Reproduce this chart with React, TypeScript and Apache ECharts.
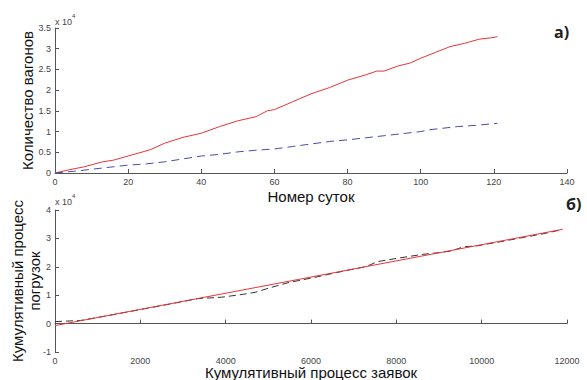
import React, { useEffect, useRef } from "react";
import * as echarts from "echarts";

// Top chart (а): wagons per day number
const topRedDays = [0, 4, 8, 13, 16, 20, 26, 30, 35, 40, 45, 50, 55, 58, 60, 65, 70, 75, 80, 85, 88, 90, 94, 97, 100, 104, 108, 112, 116, 119, 121];
const topRedValues = [0, 800, 1500, 2700, 3100, 4100, 5600, 7200, 8600, 9600, 11200, 12600, 13600, 15000, 15300, 17200, 19100, 20600, 22400, 23700, 24600, 24600, 25900, 26500, 27700, 29100, 30500, 31300, 32300, 32600, 32900];
const topBlueDays = [0, 5, 10, 15, 20, 25, 30, 35, 40, 45, 50, 55, 60, 65, 70, 75, 80, 85, 90, 96, 100, 102, 106, 110, 115, 121];
const topBlueValues = [0, 400, 900, 1400, 1900, 2200, 2700, 3400, 4100, 4500, 5100, 5500, 5800, 6400, 7000, 7600, 8000, 8500, 9000, 9600, 10000, 10400, 10800, 11200, 11500, 12000];

// Bottom chart (б): cumulative loading vs cumulative requests
const botRedX = [0, 11900];
const botRedY = [-700, 33200];
const botDashX = [0, 600, 1240, 2000, 2700, 3350, 3910, 4400, 4690, 4990, 5460, 6094, 6800, 7300, 7550, 8020, 8625, 9020, 9300, 9560, 9900, 10500, 11000, 11500, 11850];
const botDashY = [700, 1100, 2800, 4950, 6900, 8800, 9300, 10300, 11000, 12400, 14400, 16300, 18600, 20100, 21800, 23000, 24400, 25000, 25600, 27000, 27400, 29000, 30400, 31800, 33000];

const topTicksX = { min: 0, max: 140, interval: 20 };
const topTicksY = { min: 0, max: 35000, interval: 5000 };
const botTicksX = { min: 0, max: 12000, interval: 2000 };
const botTicksY = { min: -10000, max: 40000, interval: 10000 };

const zip = (xs: number[], ys: number[]) => xs.map((x, i) => [x, ys[i]]);

const fmt = (v: number) => {
  const s = v / 10000;
  return String(Math.round(s * 10) / 10);
};
const plain = (v: number) => String(v);

const FONT = "Liberation Sans, Arial, sans-serif";

export default function App() {
  const ref = useRef<HTMLDivElement>(null);
  useEffect(() => {
    if (!ref.current) return;
    const chart = echarts.init(ref.current, null, { renderer: "svg" });
    const axisCommon = {
      axisLine: { show: true, lineStyle: { color: "#555", width: 1 } },
      axisTick: { show: true, inside: true, length: 4, lineStyle: { color: "#555" } },
      axisLabel: { color: "#444", fontSize: 9, fontFamily: FONT },
      splitLine: { show: false },
      nameMoveOverlap: false,
      nameTextStyle: { color: "#111", fontSize: 15, fontFamily: FONT },
    };
    const sup = {
      a: { fontSize: 9, fontFamily: FONT, padding: [4, 0, 0, 0] },
      b: { fontSize: 6, fontFamily: FONT, verticalAlign: "top" },
    };
    chart.setOption({
      animation: false,
      backgroundColor: "#fff",
      grid: [
        { left: 55, top: 28, width: 512, height: 145, outerBoundsMode: "none", containLabel: false },
        { left: 55, top: 210, width: 512, height: 142, outerBoundsMode: "none", containLabel: false },
      ],
      xAxis: [
        {
          type: "value", gridIndex: 0, ...topTicksX, ...axisCommon,
          axisLabel: { ...axisCommon.axisLabel, margin: 4, formatter: plain },
          name: "Номер суток", nameLocation: "middle", nameGap: 16,
        },
        {
          type: "value", gridIndex: 1, ...botTicksX, ...axisCommon,
          axisLabel: { ...axisCommon.axisLabel, margin: 4, formatter: plain },
          name: "Кумулятивный процесс заявок", nameLocation: "middle", nameGap: 13,
        },
      ],
      yAxis: [
        {
          type: "value", gridIndex: 0, ...topTicksY, ...axisCommon,
          axisLabel: { ...axisCommon.axisLabel, margin: 4, formatter: fmt },
          name: "Количество вагонов", nameLocation: "middle", nameGap: 20,
        },
        {
          type: "value", gridIndex: 1, ...botTicksY, ...axisCommon,
          axisLabel: { ...axisCommon.axisLabel, margin: 4, formatter: fmt },
          name: "Кумулятивный процесс\nпогрузок", nameLocation: "middle", nameGap: 12,
          nameTextStyle: { ...axisCommon.nameTextStyle, lineHeight: 17 },
        },
      ],
      series: [
        {
          type: "line", xAxisIndex: 0, yAxisIndex: 0, data: zip(topRedDays, topRedValues),
          showSymbol: false, lineStyle: { color: "#e8343a", width: 1 },
        },
        {
          type: "line", xAxisIndex: 0, yAxisIndex: 0, data: zip(topBlueDays, topBlueValues),
          showSymbol: false, lineStyle: { color: "#4a4aa8", width: 1, type: [8, 5] },
        },
        {
          type: "line", xAxisIndex: 1, yAxisIndex: 1, data: zip(botDashX, botDashY),
          showSymbol: false, lineStyle: { color: "#333", width: 1, type: [7, 4] },
        },
        {
          type: "line", xAxisIndex: 1, yAxisIndex: 1, data: zip(botRedX, botRedY),
          showSymbol: false, lineStyle: { color: "#e8343a", width: 1 },
        },
      ],
      graphic: [
        { type: "text", left: 55, top: 13, style: { text: "{a|x 10}{b|4}", fill: "#444", rich: sup } },
        { type: "text", left: 55, top: 193, style: { text: "{a|x 10}{b|4}", fill: "#444", rich: sup } },
        { type: "text", left: 554, top: 24, style: { text: "а)", fill: "#222", fontSize: 16, fontWeight: "bold", fontFamily: "Open Sans, Arial" } },
        { type: "text", left: 566, top: 196, style: { text: "б)", fill: "#222", fontSize: 16, fontWeight: "bold", fontFamily: "Open Sans, Arial" } },
      ],
    });
    return () => chart.dispose();
  }, []);
  return <div ref={ref} style={{ width: 587, height: 380, position: "absolute", left: 0, top: 0 }} />;
}
